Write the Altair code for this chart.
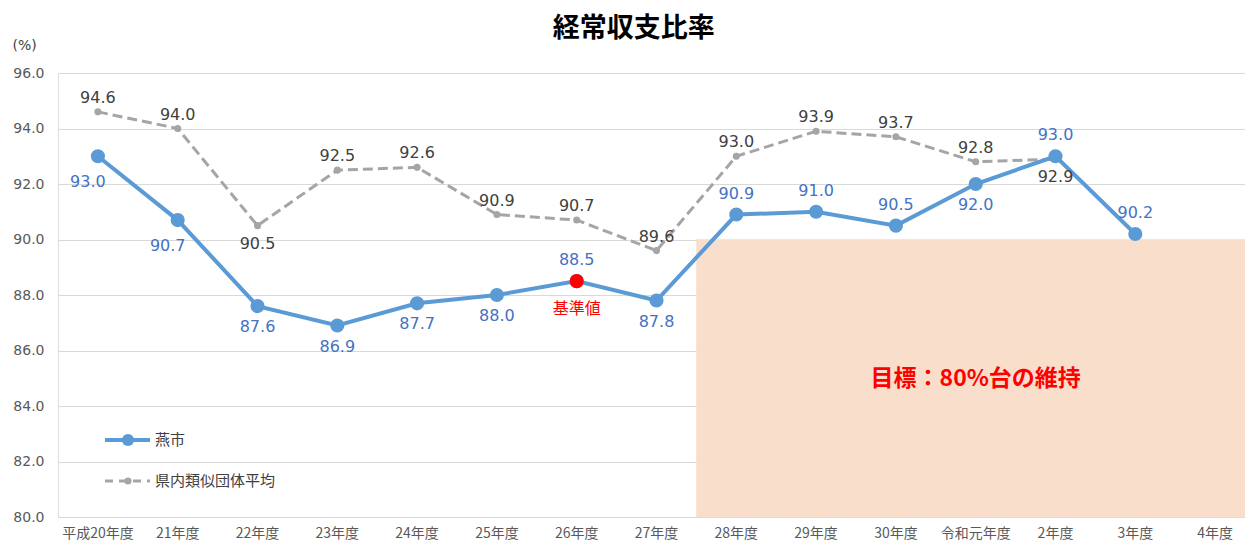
import altair as alt
import pandas as pd

years = ["平成20年度", "21年度", "22年度", "23年度", "24年度", "25年度", "26年度", "27年度",
         "28年度", "29年度", "30年度", "令和元年度", "2年度", "3年度", "4年度"]
tsubame = [93.0, 90.7, 87.6, 86.9, 87.7, 88.0, 88.5, 87.8, 90.9, 91.0, 90.5, 92.0, 93.0, 90.2, None]
kennai = [94.6, 94.0, 90.5, 92.5, 92.6, 90.9, 90.7, 89.6, 93.0, 93.9, 93.7, 92.8, 92.9, None, None]
tsubame_label_pos = ["below-left", "below-left", "below", "below", "below", "below", "above", "below",
                     "above", "above", "above", "below", "above", "above", None]
kennai_label_pos = ["above", "above", "below", "above", "above", "above", "above", "above",
                    "above", "above", "above", "above", "below", None, None]
series_names = ["燕市", "県内類似団体平均"]
base_year = "26年度"
base_label = "基準値"
target_years = years[8:]
target_low = 80.0
target_high = 90.0
target_text = "目標：80%台の維持"
target_text_year = "令和元年度"
y_ticks = [80, 82, 84, 86, 88, 90, 92, 94, 96]

FONT = "Noto Sans CJK JP"
NUMFONT = "DejaVu Sans"
BLUE = "#5B9BD5"
BLUE_TXT = "#4472C4"
GRAY = "#A5A5A5"
GRAY_TXT = "#404040"

df_a = pd.DataFrame({"year": years, "value": tsubame, "pos": tsubame_label_pos}).dropna(subset=["value"])
df_b = pd.DataFrame({"year": years, "value": kennai, "pos": kennai_label_pos}).dropna(subset=["value"])
df_target = pd.DataFrame({"year": target_years, "lo": target_low, "hi": target_high})
df_target_text = pd.DataFrame({"year": [target_text_year], "value": [(target_low + target_high) / 2],
                               "label": [target_text]})

PLOT_W = 1187
xscale = alt.Scale(type="band", domain=years, paddingInner=0, paddingOuter=0, range=[0, 1197])
yscale = alt.Scale(domain=[y_ticks[0], y_ticks[-1]], nice=False, zero=False)

xaxis = alt.Axis(title=None, labelAngle=0, ticks=False, domain=False, grid=False,
                 labelFontSize=14, labelColor="#595959", labelPadding=9, labelFont=FONT)
yaxis = alt.Axis(title="(%)", titleAngle=0, titleAlign="left", titleBaseline="middle",
                 titleX=-46, titleY=-28, titleFontSize=14, titleFontWeight="normal",
                 titleColor="#404040", titleFont=NUMFONT,
                 values=y_ticks, format=".1f", ticks=False, domain=False,
                 labelFontSize=14, labelColor="#595959", labelPadding=14, labelFont=NUMFONT,
                 gridColor="#D9D9D9", gridWidth=1)

X = alt.X("year:N", scale=xscale, axis=xaxis, bandPosition=0.5)
Y = alt.Y("value:Q", scale=yscale, axis=yaxis)

target = alt.Chart(df_target).mark_rect(color="#F9DECC", stroke="#F9DECC", strokeWidth=0.6).encode(
    x=alt.X("year:N", scale=xscale, axis=xaxis),
    y=alt.Y("lo:Q", scale=yscale, axis=yaxis),
    y2="hi:Q",
)

target_lbl = alt.Chart(df_target_text).mark_text(
    font=FONT, fontSize=23, fontWeight="bold", color="#FF0000", baseline="middle", dy=1
).encode(x=X, y=Y, text="label:N")

line_b = alt.Chart(df_b).mark_line(color=GRAY, strokeWidth=3, strokeDash=[10, 5]).encode(x=X, y=Y)
pts_b = alt.Chart(df_b).mark_circle(color=GRAY, size=50, opacity=1).encode(x=X, y=Y)

line_a = alt.Chart(df_a).mark_line(color=BLUE, strokeWidth=4).encode(x=X, y=Y)
pts_a = alt.Chart(df_a).mark_circle(color=BLUE, size=200, opacity=1).encode(x=X, y=Y)
pt_base = alt.Chart(df_a).transform_filter(alt.datum.year == base_year).mark_circle(
    color="#FF0000", size=200, opacity=1).encode(x=X, y=Y)
base_lbl = alt.Chart(df_a).transform_filter(alt.datum.year == base_year).transform_calculate(
    label=f"'{base_label}'").mark_text(
    font=FONT, fontSize=16, color="#FF0000", dy=28, baseline="middle").encode(x=X, y=Y, text="label:N")


def labels(df, pos, color, dx, dy):
    return alt.Chart(df).transform_filter(alt.datum.pos == pos).mark_text(
        font=NUMFONT, fontSize=16, color=color, dx=dx, dy=dy, baseline="middle"
    ).encode(x=X, y=Y, text=alt.Text("value:Q", format=".1f"))


lbl_layers = [
    labels(df_a, "above", BLUE_TXT, 0, -21),
    labels(df_a, "below", BLUE_TXT, 0, 21),
    labels(df_a, "below-left", BLUE_TXT, -10, 26),
    labels(df_b, "above", GRAY_TXT, 0, -14),
    labels(df_b, "below", GRAY_TXT, 0, 18),
]

# manual legend
leg_a = pd.DataFrame({"name": [series_names[0]]})
leg_b = pd.DataFrame({"name": [series_names[1]]})
legend_layers = [
    alt.Chart(leg_a).mark_rule(color=BLUE, strokeWidth=4).encode(
        x=alt.value(47), x2=alt.value(92), y=alt.value(367)),
    alt.Chart(leg_a).mark_circle(color=BLUE, size=150, opacity=1).encode(
        x=alt.value(70), y=alt.value(367)),
    alt.Chart(leg_a).mark_text(font=FONT, fontSize=15, color="#404040", align="left",
                               baseline="middle").encode(
        x=alt.value(97), y=alt.value(367), text="name:N"),
    alt.Chart(leg_b).mark_rule(color=GRAY, strokeWidth=3, strokeDash=[8, 6]).encode(
        x=alt.value(47), x2=alt.value(92), y=alt.value(408)),
    alt.Chart(leg_b).mark_circle(color=GRAY, size=50, opacity=1).encode(
        x=alt.value(70), y=alt.value(408)),
    alt.Chart(leg_b).mark_text(font=FONT, fontSize=15, color="#404040", align="left",
                               baseline="middle").encode(
        x=alt.value(97), y=alt.value(408), text="name:N"),
]

chart = alt.layer(
    target, target_lbl, line_b, pts_b, line_a, pts_a, pt_base, base_lbl,
    *lbl_layers, *legend_layers
).properties(
    width=PLOT_W, height=444,
    title=alt.TitleParams("経常収支比率", font=FONT, fontSize=27, fontWeight="bold",
                          color="#000000", anchor="middle", frame="bounds", offset=-5),
    autosize=alt.AutoSizeParams(type="none"),
    padding={"left": 50, "top": 65, "right": 0, "bottom": 24},
).configure_view(stroke=None).configure(font=FONT)

chart.save("out.html", embed_options={"renderer": "svg", "actions": False})
